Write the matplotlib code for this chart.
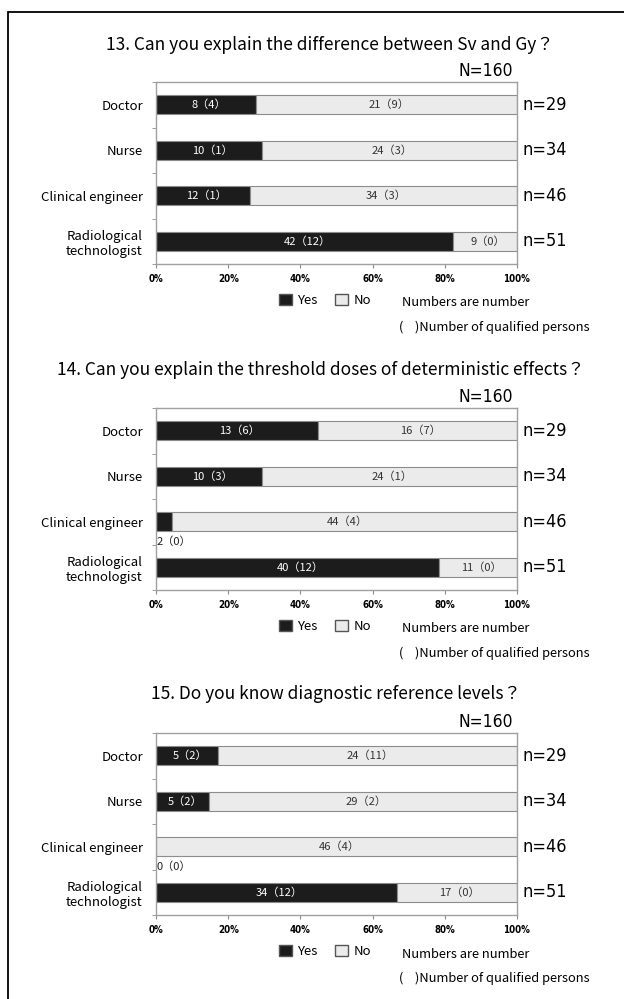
import matplotlib.pyplot as plt
from matplotlib.patches import Patch, Rectangle

# Data
groups = ['Doctor', 'Nurse', 'Clinical engineer', 'Radiological\ntechnologist']
n_group = [29, 34, 46, 51]
n_total = 160

titles = ['13. Can you explain the difference between Sv and Gy？',
          '14. Can you explain the threshold doses of deterministic effects？',
          '15. Do you know diagnostic reference levels？']

yes_13 = [8, 10, 12, 42]
yes_q_13 = [4, 1, 1, 12]
no_13 = [21, 24, 34, 9]
no_q_13 = [9, 3, 3, 0]

yes_14 = [13, 10, 2, 40]
yes_q_14 = [6, 3, 0, 12]
no_14 = [16, 24, 44, 11]
no_q_14 = [7, 1, 4, 0]

yes_15 = [5, 5, 0, 34]
yes_q_15 = [2, 2, 0, 12]
no_15 = [24, 29, 46, 17]
no_q_15 = [11, 2, 4, 0]

panels = [(yes_13, yes_q_13, no_13, no_q_13),
          (yes_14, yes_q_14, no_14, no_q_14),
          (yes_15, yes_q_15, no_15, no_q_15)]

W, H = 624, 999
jp = ['Noto Sans CJK JP', 'DejaVu Sans']
narrow = {'family': 'DejaVu Sans', 'stretch': 'condensed'}
c_yes = '#1c1c1c'
c_no = '#ebebeb'
c_edge = '#8c8c8c'

fig = plt.figure(figsize=(W / 100, H / 100), dpi=100)

# outer frame (left and top edges visible)
fig.add_artist(Rectangle((8 / W, -0.1), 2, 1 - 12 / H + 0.1,
                         transform=fig.transFigure, fill=False,
                         lw=1.3, ec='black'))

ax_top = [82, 408, 733]      # pixel top of each plot area
title_y = [45, 370, 694]
title_x = [330, 321, 336]
ax_h = 182

for k, (yes, yes_q, no, no_q) in enumerate(panels):
    top = ax_top[k]
    ax = fig.add_axes([156 / W, 1 - (top + ax_h) / H, 361 / W, ax_h / H])
    pos = list(range(len(groups)))
    yes_p = [y / n * 100 for y, n in zip(yes, n_group)]
    no_p = [v / n * 100 for v, n in zip(no, n_group)]

    ax.barh(pos, yes_p, height=0.42, color=c_yes, edgecolor=c_edge, lw=0.8)
    ax.barh(pos, no_p, left=yes_p, height=0.42, color=c_no,
            edgecolor=c_edge, lw=0.8)

    for i in pos:
        lab_y = '%d（%d）' % (yes[i], yes_q[i])
        lab_n = '%d（%d）' % (no[i], no_q[i])
        if yes_p[i] >= 8:
            ax.text(yes_p[i] / 2 + 0.8, i, lab_y, ha='center', va='center',
                    color='white', fontsize=8, family=jp)
        else:
            ax.text(0.2, i + 0.43, lab_y, ha='left', va='center',
                    color='#222222', fontsize=8, family=jp)
        ax.text(yes_p[i] + no_p[i] / 2 + 0.8, i, lab_n, ha='center',
                va='center', color='#333333', fontsize=8, family=jp)
        ax.text(101.5, i, 'n=%d' % n_group[i], ha='left', va='center',
                fontsize=13, clip_on=False, **narrow)

    ax.set_xlim(0, 100)
    ax.set_ylim(3.5, -0.5)
    ax.set_xticks(range(0, 101, 20))
    ax.set_xticklabels(['%d%%' % v for v in range(0, 101, 20)],
                       fontsize=7, fontweight='bold', **narrow)
    ax.set_yticks(pos)
    ax.set_yticklabels(groups, fontsize=9.5, family=jp, multialignment='center')
    ax.set_yticks([-0.5, 0.5, 1.5, 2.5, 3.5], minor=True)
    ax.tick_params(axis='y', which='major', length=0, pad=9.5)
    ax.tick_params(axis='y', which='minor', length=3, color=c_edge)
    ax.tick_params(axis='x', length=3, color=c_edge, pad=4)
    for s in ax.spines.values():
        s.set_color('#a0a0a0')
        s.set_linewidth(1.0)

    ax.text(0.99, 1.01, 'N=%d' % n_total, transform=ax.transAxes,
            ha='right', va='bottom', fontsize=12.5, **narrow)

    ax.legend(handles=[Patch(fc=c_yes, ec='#555555', label='Yes'),
                       Patch(fc=c_no, ec='#555555', label='No')],
              loc='center left', bbox_to_anchor=(0.307, -0.2), ncol=2,
              frameon=False, handlelength=1.0, handleheight=1.0,
              handletextpad=0.4, columnspacing=1.3,
              prop={'family': jp, 'size': 9.5})

    fig.text(402 / W, 1 - (top + ax_h + 39) / H, 'Numbers are number',
             ha='left', va='center', fontsize=9.3, family=jp)
    fig.text(399 / W, 1 - (top + ax_h + 63) / H,
             '(    )Number of qualified persons',
             ha='left', va='center', fontsize=9.3, family=jp)

    fig.text(title_x[k] / W, 1 - title_y[k] / H, titles[k], ha='center',
             va='center', fontsize=12.5, family=jp)

plt.savefig('out.png', dpi=100)
